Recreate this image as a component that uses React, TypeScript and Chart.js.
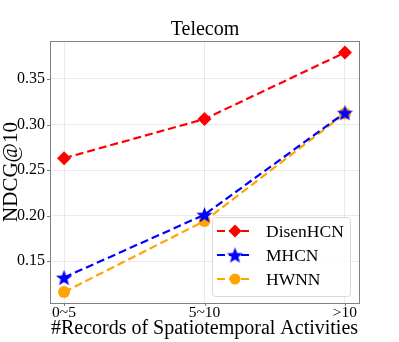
import React, { useEffect, useRef } from "react";
import { Chart, registerables } from "chart.js";
Chart.register(...registerables);

const categories = ["0~5", "5~10", ">10"];
const seriesNames = ["DisenHCN", "MHCN", "HWNN"];
const disenHCN = [0.263, 0.306, 0.379];
const mhcn = [0.132, 0.201, 0.313];
const hwnn = [0.116, 0.194, 0.312];
const yTicks = [0.15, 0.2, 0.25, 0.3, 0.35];
const colors = ["#ff0000", "#0000ff", "#ffa500"];
const titleText = "Telecom";
const xTitle = "#Records of Spatiotemporal Activities";
const yTitle = "NDCG@10";

const FONT = "'Liberation Serif', 'Times New Roman', serif";

function makeStar(color: string, r: number) {
  const c = document.createElement("canvas");
  const s = Math.ceil(r * 2 + 2);
  c.width = s;
  c.height = s;
  const ctx = c.getContext("2d")!;
  const cx = s / 2, cy = s / 2 + r * 0.1;
  ctx.beginPath();
  for (let i = 0; i < 10; i++) {
    const rad = i % 2 === 0 ? r : r * 0.42;
    const a = -Math.PI / 2 + (i * Math.PI) / 5;
    const x = cx + rad * Math.cos(a);
    const y = cy + rad * Math.sin(a);
    if (i === 0) ctx.moveTo(x, y);
    else ctx.lineTo(x, y);
  }
  ctx.closePath();
  ctx.fillStyle = color;
  ctx.fill();
  return c;
}

export default function App() {
  const ref = useRef<HTMLCanvasElement | null>(null);
  useEffect(() => {
    document.body.style.margin = "0";
    const star = makeStar(colors[1], 8.5);
    const markerStyles: any[] = ["rectRot", star, "circle"];
    const markerRadius = [7, 8, 6];
    const all = [disenHCN, mhcn, hwnn];

    const frame = {
      id: "frame",
      afterDraw(chart: any) {
        const { ctx, chartArea: a } = chart;
        const xs = chart.scales.x, ys = chart.scales.y;
        ctx.save();
        ctx.strokeStyle = "#808080";
        ctx.lineWidth = 1;
        ctx.strokeRect(a.left + 0.5, a.top + 0.5, a.right - a.left, a.bottom - a.top);
        // tick marks
        ctx.beginPath();
        categories.forEach((_, i) => {
          const px = Math.round(xs.getPixelForValue(i)) + 0.5;
          ctx.moveTo(px, a.bottom);
          ctx.lineTo(px, a.bottom + 3);
        });
        yTicks.forEach((v) => {
          const py = Math.round(ys.getPixelForValue(v)) + 0.5;
          ctx.moveTo(a.left - 3, py);
          ctx.lineTo(a.left, py);
        });
        ctx.stroke();
        // title
        ctx.fillStyle = "#000";
        ctx.textAlign = "center";
        ctx.textBaseline = "middle";
        ctx.font = `20px ${FONT}`;
        ctx.fillText(titleText, 205, 30);
        ctx.font = `20px ${FONT}`;
        ctx.fillText(xTitle, 204.5, 329);
        ctx.save();
        ctx.translate(11, (a.top + a.bottom) / 2);
        ctx.rotate(-Math.PI / 2);
        ctx.font = `21px ${FONT}`;
        ctx.fillText(yTitle, 0, 0);
        ctx.restore();
        // legend
        const lx = 212, ly = 217, lw = 138, lh = 79;
        ctx.fillStyle = "rgba(255,255,255,0.85)";
        ctx.strokeStyle = "#d8d8d8";
        ctx.lineWidth = 1;
        ctx.beginPath();
        (ctx as any).roundRect(lx + 0.5, ly + 0.5, lw, lh, 3);
        ctx.fill();
        ctx.stroke();
        for (let i = 0; i < 3; i++) {
          const yy = 231 + i * 24;
          ctx.strokeStyle = colors[i];
          ctx.lineWidth = 2.2;
          ctx.setLineDash([8, 4]);
          ctx.beginPath();
          ctx.moveTo(217, yy);
          ctx.lineTo(253, yy);
          ctx.stroke();
          ctx.setLineDash([]);
          const mx = 235;
          ctx.fillStyle = colors[i];
          if (i === 0) {
            ctx.beginPath();
            ctx.moveTo(mx, yy - 6.5);
            ctx.lineTo(mx + 6.5, yy);
            ctx.lineTo(mx, yy + 6.5);
            ctx.lineTo(mx - 6.5, yy);
            ctx.closePath();
            ctx.fill();
          } else if (i === 1) {
            ctx.drawImage(star, mx - star.width / 2, yy - star.height / 2);
          } else {
            ctx.beginPath();
            ctx.arc(mx, yy, 5.5, 0, Math.PI * 2);
            ctx.fill();
          }
          ctx.fillStyle = "#000";
          ctx.textAlign = "left";
          ctx.font = `17.5px ${FONT}`;
          ctx.fillText(seriesNames[i], 266, yy + 1);
        }
        ctx.restore();
      },
    };

    const chart = new Chart(ref.current!, {
      type: "line",
      data: {
        datasets: all.map((arr, i) => ({
          label: seriesNames[i],
          data: arr.map((v, j) => ({ x: j, y: v })),
          borderColor: colors[i],
          backgroundColor: colors[i],
          borderWidth: 2.2,
          borderDash: [8, 4],
          pointStyle: markerStyles[i],
          pointRadius: markerRadius[i],
          pointBorderWidth: 0,
          pointBackgroundColor: colors[i],
          pointBorderColor: colors[i],
          fill: false,
          tension: 0,
        })),
      },
      options: {
        animation: false,
        responsive: false,
        maintainAspectRatio: false,
        layout: { padding: { left: 0, right: 40, top: 41, bottom: 0 } },
        plugins: { legend: { display: false }, title: { display: false }, tooltip: { enabled: false } },
        scales: {
          x: {
            type: "linear",
            min: -0.1,
            max: 2.1,
            afterBuildTicks: (s: any) => {
              s.ticks = categories.map((_, i) => ({ value: i }));
            },
            afterFit: (s: any) => {
              s.height = 39;
            },
            ticks: {
              color: "#000",
              font: { family: FONT, size: 15.5 },
              padding: 1,
              maxRotation: 0,
              callback: (v: any) => categories[Math.round(Number(v))] ?? "",
            },
            grid: { color: "#e4e4e4", lineWidth: 0.8, drawTicks: false },
            border: { display: false },
          },
          y: {
            type: "linear",
            min: 0.104,
            max: 0.3917,
            afterBuildTicks: (s: any) => {
              s.ticks = yTicks.map((v) => ({ value: v }));
            },
            afterFit: (s: any) => {
              s.width = 50;
            },
            ticks: {
              color: "#000",
              font: { family: FONT, size: 16 },
              padding: 5,
              callback: (v: any) => Number(v).toFixed(2),
            },
            grid: { color: "#e4e4e4", lineWidth: 0.8, drawTicks: false },
            border: { display: false },
          },
        },
      },
      plugins: [frame],
    } as any);
    return () => chart.destroy();
  }, []);
  return (
    <div style={{ position: "fixed", left: 0, top: 0, width: 399, height: 342, background: "#fff" }}>
      <canvas ref={ref} width={399} height={342} style={{ width: 399, height: 342 }} />
    </div>
  );
}
